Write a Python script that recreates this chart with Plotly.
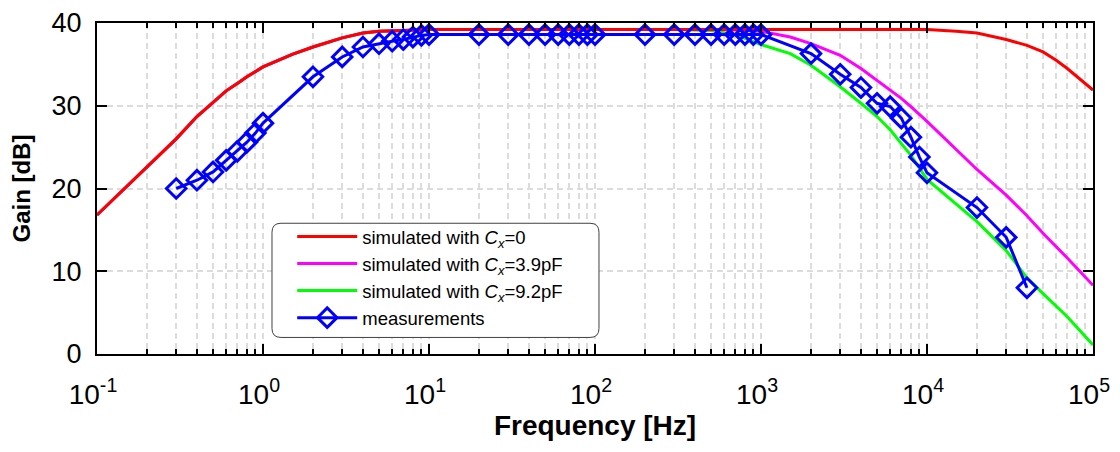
import plotly.graph_objects as go

# ---------------- data ----------------
# low-frequency part shared by the three simulated curves (they overlap)
sim_low_f = [0.1, 0.2, 0.3, 0.4, 0.5, 0.6, 0.7, 0.8, 1, 1.5, 2, 3, 4, 5, 7, 10, 30, 100, 300]
sim_low_g = [16.8, 22.6, 26.0, 28.7, 30.4, 31.8, 32.7, 33.5, 34.7, 36.2, 37.1, 38.2, 38.8, 39.0, 39.1, 39.2, 39.2, 39.2, 39.2]

red_hi_f = [1000, 5000, 10000, 15000, 20000, 30000, 40000, 50000, 60000, 70000, 80000, 100000]
red_hi_g = [39.2, 39.2, 39.2, 39.0, 38.8, 38.0, 37.3, 36.5, 35.5, 34.5, 33.5, 31.9]

mag_hi_f = [600, 1000, 1500, 2000, 3000, 4000, 5000, 6000, 7000, 8000, 10000, 20000, 30000, 40000, 50000, 70000, 100000]
mag_hi_g = [39.2, 39.0, 38.3, 37.5, 36.1, 34.5, 33.1, 31.9, 30.9, 29.9, 28.1, 22.3, 19.2, 16.7, 14.6, 11.6, 8.3]

green_hi_f = [500, 700, 1000, 1500, 2000, 3000, 4000, 5000, 6000, 7000, 8000, 10000, 20000, 30000, 40000, 50000, 70000, 100000]
green_hi_g = [39.1, 38.6, 37.4, 36.3, 34.9, 32.3, 30.3, 28.7, 27.1, 25.4, 24.0, 21.1, 16.0, 12.5, 9.2, 7.3, 4.5, 1.1]

meas_f = [0.3, 0.4, 0.5, 0.6, 0.7, 0.8, 0.9, 1, 2, 3, 4, 5, 6, 7, 8, 9,
          10, 20, 30, 40, 50, 60, 70, 80, 90,
          100, 200, 300, 400, 500, 600, 700, 800, 900,
          1000, 2000, 3000, 4000, 5000, 6000, 7000, 8000, 9000,
          10000, 20000, 30000, 40000]
meas_g = [20.0, 21.0, 22.0, 23.4, 24.5, 25.6, 26.7, 27.9, 33.5, 35.9, 37.1, 37.5, 37.8, 38.0, 38.3, 38.5,
          38.6, 38.6, 38.6, 38.6, 38.6, 38.6, 38.6, 38.6, 38.6,
          38.6, 38.6, 38.6, 38.6, 38.6, 38.6, 38.6, 38.6, 38.6,
          38.6, 36.3, 33.8, 32.2, 30.3, 29.9, 28.5, 26.2, 23.8,
          21.9, 17.7, 14.1, 8.0]

series_names = ["simulated with <i>C<sub>x</sub></i>=0",
                "simulated with <i>C<sub>x</sub></i>=3.9pF",
                "simulated with <i>C<sub>x</sub></i>=9.2pF",
                "measurements"]

x_tickvals = [0.1, 1, 10, 100, 1000, 10000, 100000]
x_ticktext = ["10<sup>-1</sup>", "10<sup>0</sup>", "10<sup>1</sup>", "10<sup>2</sup>",
              "10<sup>3</sup>", "10<sup>4</sup>", "10<sup>5</sup>"]
y_tickvals = [0, 10, 20, 30, 40]

# ---------------- figure ----------------
FONT = "Liberation Sans, Arial, sans-serif"
fig = go.Figure()

fig.add_trace(go.Scatter(x=sim_low_f + green_hi_f, y=sim_low_g + green_hi_g, mode="lines",
                         name=series_names[2], legendrank=3, legendgroup="g",
                         line=dict(color="#00ff00", width=3)))
fig.add_trace(go.Scatter(x=sim_low_f + mag_hi_f, y=sim_low_g + mag_hi_g, mode="lines",
                         name=series_names[1], legendrank=2, legendgroup="m",
                         line=dict(color="#ff00ff", width=3)))
fig.add_trace(go.Scatter(x=sim_low_f + red_hi_f, y=sim_low_g + red_hi_g, mode="lines",
                         name=series_names[0], legendrank=1, legendgroup="r",
                         line=dict(color="#ff0000", width=3)))
fig.add_trace(go.Scatter(x=meas_f, y=meas_g, mode="lines+markers",
                         name=series_names[3], legendrank=4, legendgroup="b",
                         line=dict(color="#0000ff", width=3),
                         marker=dict(symbol="diamond-open", size=15, color="#0000ff",
                                     line=dict(color="#0000ff", width=3))))

grid_c = "#dcdcdc"
fig.update_xaxes(type="log", range=[-1, 5], automargin=False,
                 tickmode="array", tickvals=x_tickvals, ticktext=x_ticktext,
                 tickfont=dict(family=FONT, size=28, color="black"),
                 ticklabelstandoff=14, ticklabelshift=-4,
                 ticks="inside", ticklen=10, tickwidth=1.5, tickcolor="black",
                 showline=True, linecolor="black", linewidth=2, mirror="allticks",
                 showgrid=True, gridcolor=grid_c, gridwidth=1.5, griddash="6px,4px",
                 minor=dict(ticks="inside", ticklen=5, tickwidth=1.5, tickcolor="black",
                            dtick="D1", showgrid=True, gridcolor=grid_c, gridwidth=1.5,
                            griddash="6px,4px"),
                 zeroline=False,
                 title=dict(text="<b>Frequency [Hz]</b>", font=dict(family=FONT, size=28, color="black"),
                            standoff=4))
fig.update_yaxes(range=[0, 40], tickmode="array", tickvals=y_tickvals, automargin=False,
                 tickfont=dict(family=FONT, size=27, color="black"),
                 ticklabelstandoff=8,
                 ticks="inside", ticklen=10, tickwidth=1.5, tickcolor="black",
                 showline=True, linecolor="black", linewidth=2, mirror="allticks",
                 showgrid=True, gridcolor=grid_c, gridwidth=1.5, griddash="6px,4px",
                 zeroline=False,
                 title=dict(text="<b>Gain [dB]</b>", font=dict(family=FONT, size=24, color="black"),
                            standoff=14))

# rounded legend box
x0, x1, y0, y1 = 0.1757, 0.504, 0.050, 0.395
rx, ry = 0.009, 0.027
path = (f"M {x0+rx},{y0} L {x1-rx},{y0} Q {x1},{y0} {x1},{y0+ry} "
        f"L {x1},{y1-ry} Q {x1},{y1} {x1-rx},{y1} L {x0+rx},{y1} Q {x0},{y1} {x0},{y1-ry} "
        f"L {x0},{y0+ry} Q {x0},{y0} {x0+rx},{y0} Z")
fig.add_shape(type="path", path=path, xref="paper", yref="paper",
              fillcolor="white", line=dict(color="#404040", width=1), layer="above")

# the page body adds an 8px offset, so the figure is 8px smaller than the window
fig.update_layout(
    width=1112, height=444,
    margin=dict(l=89, r=27, t=15, b=98, autoexpand=False),
    paper_bgcolor="white", plot_bgcolor="white",
    font=dict(family=FONT, color="black"),
    showlegend=True,
    legend=dict(x=0.196, y=0.411, xanchor="left", yanchor="top",
                bgcolor="rgba(0,0,0,0)", borderwidth=0,
                font=dict(family=FONT, size=18.5, color="black"),
                tracegroupgap=0, itemwidth=60),
)

fig.write_html("out.html")
